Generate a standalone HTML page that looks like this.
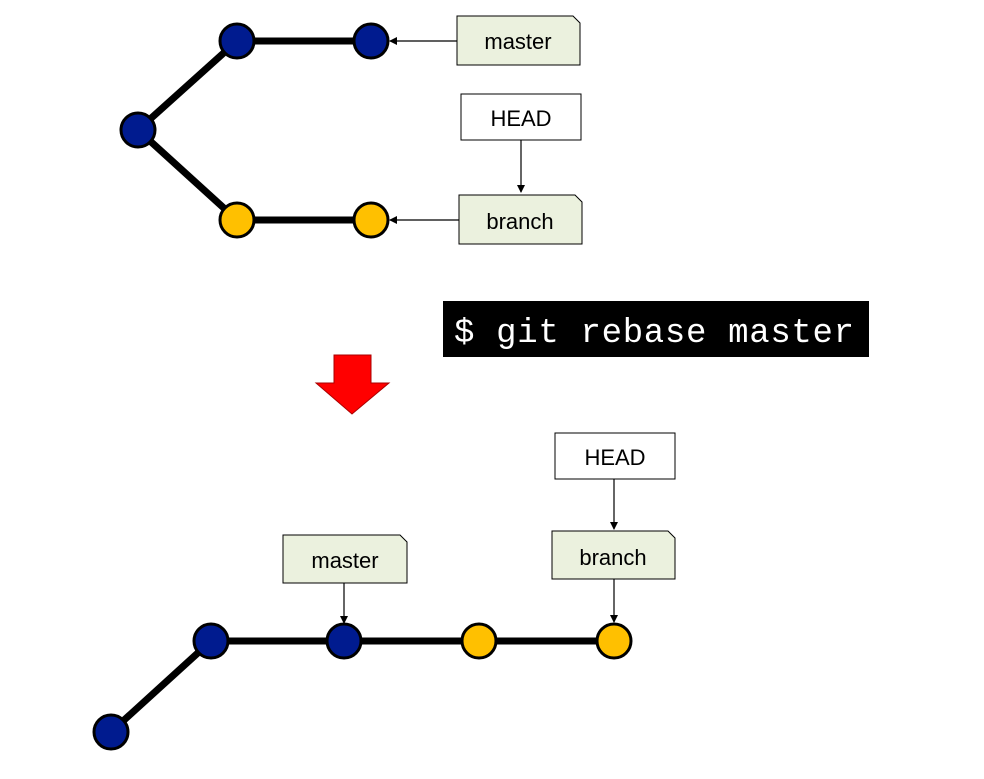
<!DOCTYPE html>
<html><head><style>body{margin:0;background:#fff}svg{display:block}</style></head><body>
<svg width="984" height="779" xmlns="http://www.w3.org/2000/svg" font-family="Liberation Sans, sans-serif">
<defs><marker id="a" markerWidth="8" markerHeight="8" refX="7" refY="4" orient="auto" markerUnits="userSpaceOnUse"><path d="M0,0L8,4L0,8z" fill="#000"/></marker></defs>
<g stroke="#000" stroke-width="7" fill="none">
<line x1="138" y1="130" x2="237" y2="41"/><line x1="237" y1="41" x2="371" y2="41"/>
<line x1="138" y1="130" x2="237" y2="220"/><line x1="237" y1="220" x2="371" y2="220"/>
<line x1="111" y1="732" x2="211" y2="641"/><line x1="211" y1="641" x2="614" y2="641"/>
</g>
<g stroke="#000" stroke-width="3">
<circle cx="237" cy="41" r="17" fill="#001b8f"/><circle cx="371" cy="41" r="17" fill="#001b8f"/>
<circle cx="138" cy="130" r="17" fill="#001b8f"/>
<circle cx="237" cy="220" r="17" fill="#ffc000"/><circle cx="371" cy="220" r="17" fill="#ffc000"/>
<circle cx="111" cy="732" r="17" fill="#001b8f"/><circle cx="211" cy="641" r="17" fill="#001b8f"/>
<circle cx="344" cy="641" r="17" fill="#001b8f"/><circle cx="479" cy="641" r="17" fill="#ffc000"/>
<circle cx="614" cy="641" r="17" fill="#ffc000"/>
</g>
<g stroke="#000" stroke-width="1" fill="#ebf1de">
<path d="M457,16H573L580,23V65H457Z"/>
<path d="M459,195H575L582,202V244H459Z"/>
<path d="M283,535H400L407,542V583H283Z"/>
<path d="M552,531H668L675,538V579H552Z"/>
<rect x="461" y="94" width="120" height="46" fill="#fff"/>
<rect x="555" y="433" width="120" height="46" fill="#fff"/>
</g>
<g stroke="#000" stroke-width="1.2" marker-end="url(#a)">
<line x1="457" y1="41" x2="390" y2="41"/>
<line x1="459" y1="220" x2="390" y2="220"/>
<line x1="521" y1="140" x2="521" y2="192"/>
<line x1="344" y1="583" x2="344" y2="623"/>
<line x1="614" y1="479" x2="614" y2="529"/>
<line x1="614" y1="579" x2="614" y2="622"/>
</g>
<g font-size="22" text-anchor="middle" fill="#000">
<text x="518" y="49">master</text><text x="521" y="126">HEAD</text>
<text x="520" y="229">branch</text><text x="345" y="568">master</text>
<text x="615" y="465">HEAD</text><text x="613" y="565">branch</text>
</g>
<rect x="443" y="301" width="426" height="56" fill="#000"/>
<text x="454" y="342" font-family="Liberation Mono, monospace" font-size="34" fill="#fff" textLength="400">$ git rebase master</text>
<path d="M334,355H371V383H389L352,414L316,383H334Z" fill="#f00" stroke="#a00" stroke-width="1"/>
</svg>
</body></html>
